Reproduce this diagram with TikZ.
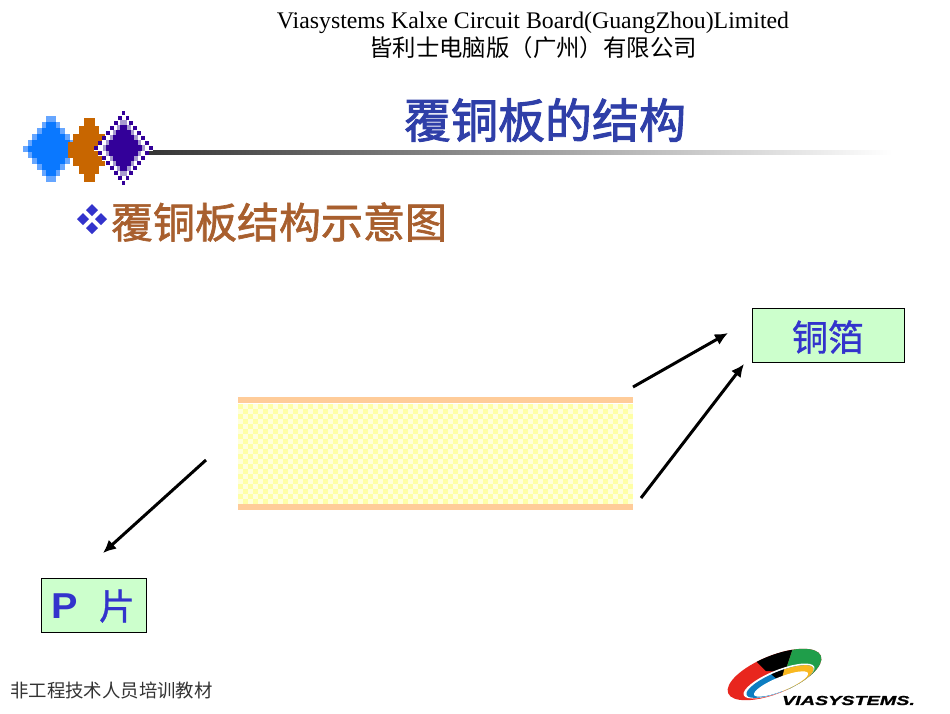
\documentclass[tikz,border=0pt]{standalone}
\usepackage{fontspec}
\setmainfont{Liberation Serif}
\newfontfamily\cjk{Noto Sans CJK SC}
\newfontfamily\arialf{Liberation Sans}
\usetikzlibrary{arrows.meta}
\definecolor{titleblue}{HTML}{2F3FA8}
\definecolor{subbrown}{HTML}{A85F2E}
\definecolor{boxgreen}{HTML}{CCFFCC}
\definecolor{boxblue}{HTML}{3333CC}
\definecolor{band}{HTML}{FFCC99}
\definecolor{chkA}{HTML}{FFFFA6}
\definecolor{chkB}{HTML}{FFFFDC}
\definecolor{dblue}{HTML}{0A78FF}
\definecolor{lblue}{HTML}{66A6FF}
\definecolor{dorange}{HTML}{C86600}
\definecolor{dpurple}{HTML}{330099}
\definecolor{lpurple}{HTML}{A79ACF}
\definecolor{lgreen}{HTML}{1F9E4A}
\definecolor{lred}{HTML}{E8261E}
\definecolor{lyellow}{HTML}{F9B820}
\definecolor{lcyan}{HTML}{0D7DC1}
\tikzset{
  x=1pt,y=-1pt,
  txt/.style={inner sep=0pt,anchor=center,text=black},
  labelbox/.style={draw=black,line width=0.7pt,fill=boxgreen,inner sep=0pt,anchor=north west},
  arrowline/.style={draw=black,line width=3pt,-{Latex[length=13pt,width=12pt]}}
}
% stepped diamond: cx cy halfrows colour rowheight halfwidth
\newcommand{\stepdiamond}[6]{%
  \foreach \k in {-#3,...,#3}{%
    \pgfmathsetmacro{\hw}{#6*(#3+1-abs(\k))/(#3+1)}
    \fill[#4] ({#1-\hw},{#2+\k*#5-#5/2-0.05}) rectangle ({#1+\hw},{#2+\k*#5+#5/2+0.05});
  }%
}
\begin{document}
\begin{tikzpicture}
\useasboundingbox (0,0) rectangle (950,713);
\fill[white] (0,0) rectangle (950,713);

% header
\node[txt] (hdA) at (533,22.5) {\fontsize{23.8}{25}\selectfont Viasystems Kalxe Circuit Board(GuangZhou)Limited};
\node[txt] (hdB) at (533,48) {\fontsize{23.4}{25}\selectfont\cjk 皆利士电脑版（广州）有限公司};
\node[txt,text=titleblue] (title) at (545,120) {\fontsize{47}{50}\selectfont\cjk\addfontfeatures{FakeBold=2} 覆铜板的结构};

% gradient rule
\shade[left color=black!80,right color=white] (140,150) rectangle (892,154);

% stepped diamonds
\stepdiamond{51}{149}{5}{lblue}{6}{28}
\stepdiamond{51}{149}{4}{dblue}{6}{23.3}
\foreach \ya/\yb/\hw in {118/126/5.5,126/134/10,134/142/16,142/158/21,158/166/16,166/174/10,174/182/5.5}{
  \fill[dorange] ({89-\hw},\ya) rectangle ({89+\hw},\yb);
}
% purple dotted outline
\foreach \k in {-7,...,7}{
  \pgfmathsetmacro{\hw}{3.9*(7-abs(\k))+1.9}
  \fill[white] ({123.5-\hw},{148+\k*5-2.5}) rectangle ({123.5+\hw},{148+\k*5+2.5});
  \fill[dpurple] ({123.5-\hw},{148+\k*5-2.2}) rectangle ({123.5-\hw+3.8},{148+\k*5+2.2});
  \fill[dpurple] ({123.5+\hw-3.8},{148+\k*5-2.2}) rectangle ({123.5+\hw},{148+\k*5+2.2});
}
\stepdiamond{123.5}{148}{5}{lpurple}{5}{21}
\stepdiamond{123.5}{148}{4}{dpurple}{5}{18}

% subheading bullet
\foreach \dx/\dy in {-9/0,9/0,0/-9,0/9}{
  \fill[boxblue] (92+\dx,219+\dy-6) -- (92+\dx+6,219+\dy) -- (92+\dx,219+\dy+6) -- (92+\dx-6,219+\dy) -- cycle;
}
\node[txt,text=subbrown] (sub) at (279,222) {\fontsize{42}{45}\selectfont\cjk\addfontfeatures{FakeBold=1.5} 覆铜板结构示意图};

% board
\fill[chkB] (238,403.5) rectangle (633,504);
\foreach \i in {0,...,78}{
  \foreach \j in {0,...,19}{
    \pgfmathparse{int(mod(\i+\j,2))}
    \ifnum\pgfmathresult=0
      \fill[chkA] (238+\i*5,404+\j*5) rectangle ++(5,5);
    \fi
  }
}
\fill[band] (237.5,397) rectangle (633,402.5);
\fill[band] (237.5,504) rectangle (633,509.5);

% labelled boxes
\node[labelbox,minimum width=152pt,minimum height=54pt] (cu) at (752,308) {};
\node[txt,text=boxblue] (cuT) at (828,337) {\fontsize{36}{38}\selectfont\cjk\addfontfeatures{FakeBold=1} 铜箔};
\node[labelbox,minimum width=105pt,minimum height=54pt] (pp) at (41,578) {};
\node[txt,text=boxblue] (ppA) at (64.5,606) {\scalebox{1.1}[1]{\fontsize{36}{38}\selectfont\arialf\bfseries P}};
\node[txt,text=boxblue] (ppB) at (117,606) {\fontsize{36}{38}\selectfont\cjk\addfontfeatures{FakeBold=1} 片};

% connectors
\coordinate (a1) at (633,387);
\coordinate (a1e) at (728,333);
\coordinate (a2) at (641,498);
\coordinate (a2e) at (744,364);
\coordinate (a3) at (206,460);
\coordinate (a3e) at (103,553);
\draw[arrowline] (a1) -- (a1e);
\draw[arrowline] (a2) -- (a2e);
\draw[arrowline] (a3) -- (a3e);

% footer
\node[txt,text=black!80] (foot) at (111.5,690) {\fontsize{18.4}{20}\selectfont\cjk 非工程技术人员培训教材};

% logo
\begin{scope}
  \clip[shift={(774.5,674.5)},rotate=22] (0,0) ellipse [x radius=50,y radius=19];
  \fill[lred] (720,640) rectangle (830,705);
  \fill[black] (752,657) -- (766,671) -- (785,672) -- (794,645) -- cycle;
  \fill[lgreen] (794,645) -- (785,672) -- (790,705) -- (830,705) -- (830,640) -- cycle;
\end{scope}
\fill[white,shift={(779,681)},rotate=22] (0,0) ellipse [x radius=38,y radius=11];
\begin{scope}
  \clip[shift={(780,681.5)},rotate=22] (0,0) ellipse [x radius=36,y radius=10];
  \fill[lcyan] (730,650) rectangle (830,705);
  \fill[black] (788,660) -- (782,678) -- (778,680) -- (764,668) -- (764,655) -- cycle;
  \fill[lyellow] (788,655) -- (782,678) -- (782,705) -- (830,705) -- (830,650) -- cycle;
\end{scope}
\fill[white,shift={(781,684)},rotate=22] (0,0) ellipse [x radius=29,y radius=7];
\node[txt] (logo) at (848.5,700.5) {\scalebox{1.52}[1]{\fontsize{13}{14}\selectfont\arialf\bfseries\itshape\addfontfeatures{FakeBold=1} VIASYSTEMS.}};
\end{tikzpicture}
\end{document}
